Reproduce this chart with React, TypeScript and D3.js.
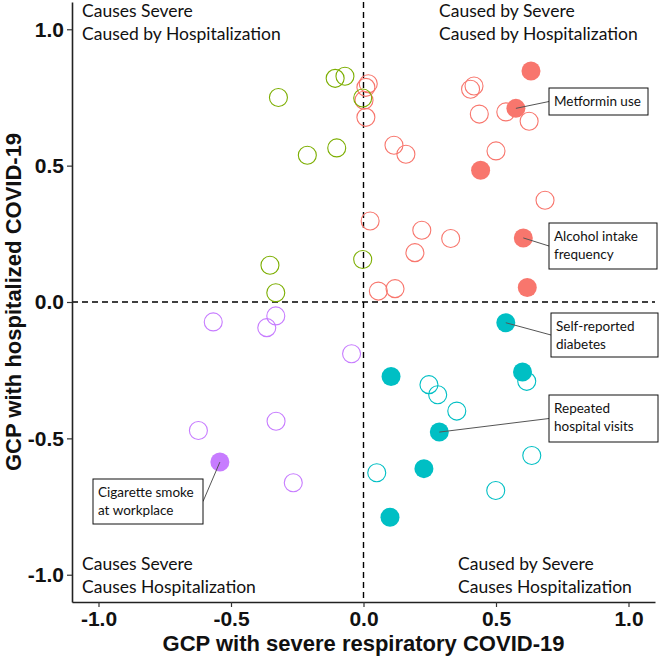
import React, { useEffect, useRef } from 'react';
import * as d3 from 'd3';

// genetic causal proportion (GCP): x = severe respiratory COVID-19, y = hospitalized COVID-19
const redOpen = [
  [0.018, 0.8], [0.009, 0.787], [0.002, 0.74], [0.009, 0.677], [0.417, 0.792], [0.404, 0.78],
  [0.437, 0.689], [0.537, 0.697], [0.625, 0.663], [0.115, 0.575], [0.16, 0.542], [0.5, 0.554],
  [0.685, 0.373], [0.025, 0.297], [0.22, 0.263], [0.329, 0.233], [0.194, 0.181], [0.056, 0.04],
  [0.119, 0.049],
];
const redFilled = [[0.632, 0.847], [0.575, 0.71], [0.442, 0.483], [0.603, 0.235], [0.618, 0.053]];
const greenOpen = [
  [-0.321, 0.75], [-0.107, 0.82], [-0.07, 0.828], [-0.212, 0.538], [-0.101, 0.565],
  [-0.003, 0.748], [-0.353, 0.135], [-0.331, 0.034], [-0.003, 0.156],
];
const purpleOpen = [
  [-0.567, -0.073], [-0.331, -0.051], [-0.365, -0.094], [-0.623, -0.471], [-0.33, -0.437],
  [-0.265, -0.663], [-0.045, -0.19],
];
const purpleFilled = [[-0.542, -0.587]];
const tealOpen = [
  [0.247, -0.303], [0.28, -0.34], [0.352, -0.4], [0.616, -0.291], [0.635, -0.563],
  [0.05, -0.626], [0.499, -0.691],
];
const tealFilled = [[0.537, -0.076], [0.104, -0.273], [0.6, -0.257], [0.286, -0.477], [0.228, -0.611], [0.1, -0.789]];

const tickValues = [-1.0, -0.5, 0.0, 0.5, 1.0];

// labelled traits: which point they point at
const annotations = [
  { lines: ['Metformin use'], point: redFilled[1] },
  { lines: ['Alcohol intake', 'frequency'], point: redFilled[3] },
  { lines: ['Self-reported', 'diabetes'], point: tealFilled[0] },
  { lines: ['Repeated', 'hospital visits'], point: tealFilled[3] },
  { lines: ['Cigarette smoke', 'at workplace'], point: purpleFilled[0] },
];

const quadrantLabels = [
  { lines: ['Causes Severe', 'Caused by Hospitalization'], corner: 'tl' },
  { lines: ['Caused by Severe', 'Caused by Hospitalization'], corner: 'tr' },
  { lines: ['Causes Severe', 'Causes Hospitalization'], corner: 'bl' },
  { lines: ['Caused by Severe', 'Causes Hospitalization'], corner: 'br' },
];

const COLORS = { red: '#F8766D', green: '#7CAE00', teal: '#00BFC4', purple: '#C77CFF' };

const GcpScatter = () => {
  const svgRef = useRef(null);

  useEffect(() => {
    d3.select(svgRef.current).selectAll('*').remove();

    const width = 660;
    const height = 659;
    const margin = { top: 2, right: 5, bottom: 57, left: 72 };
    const r = 9;

    const svg = d3.select(svgRef.current)
      .attr('width', width)
      .attr('height', height);

    const x = d3.scaleLinear().domain([-1.1, 1.1]).range([margin.left, width - margin.right]);
    const y = d3.scaleLinear().domain([-1.1, 1.1]).range([height - margin.bottom, margin.top]);

    // reference lines at zero
    svg.append('line')
      .attr('x1', x(0)).attr('x2', x(0))
      .attr('y1', y(1.1)).attr('y2', y(-1.1))
      .attr('stroke', '#000').attr('stroke-width', 1.4).attr('stroke-dasharray', '6,4');
    svg.append('line')
      .attr('x1', x(-1.1)).attr('x2', x(1.1))
      .attr('y1', y(0)).attr('y2', y(0))
      .attr('stroke', '#000').attr('stroke-width', 1.4).attr('stroke-dasharray', '6,4');

    // quadrant labels
    const qFont = 'Lato, "Open Sans", sans-serif';
    const qPos = {
      tl: { x: 82, y: 17 },
      tr: { x: 439, y: 17 },
      bl: { x: 82, y: 570 },
      br: { x: 458, y: 570 },
    };
    quadrantLabels.forEach(q => {
      const p = qPos[q.corner];
      const t = svg.append('text')
        .attr('x', p.x).attr('y', p.y)
        .attr('font-family', qFont).attr('font-size', '17.5px').attr('fill', '#111');
      q.lines.forEach((line, i) => {
        t.append('tspan').attr('x', p.x).attr('dy', i === 0 ? 0 : 23).text(line);
      });
    });

    // points: open rings first, filled on top
    const drawOpen = (pts, color) => {
      svg.append('g').selectAll('circle')
        .data(pts)
        .enter()
        .append('circle')
        .attr('cx', d => x(d[0]))
        .attr('cy', d => y(d[1]))
        .attr('r', r)
        .attr('fill', 'none')
        .attr('stroke', color)
        .attr('stroke-width', 1.1);
    };
    const drawFilled = (pts, color) => {
      svg.append('g').selectAll('circle')
        .data(pts)
        .enter()
        .append('circle')
        .attr('cx', d => x(d[0]))
        .attr('cy', d => y(d[1]))
        .attr('r', r + 0.5)
        .attr('fill', color);
    };
    drawOpen(redOpen, COLORS.red);
    drawOpen(greenOpen, COLORS.green);
    drawOpen(purpleOpen, COLORS.purple);
    drawOpen(tealOpen, COLORS.teal);
    drawFilled(redFilled, COLORS.red);
    drawFilled(purpleFilled, COLORS.purple);
    drawFilled(tealFilled, COLORS.teal);

    // annotation boxes (pixel layout)
    const boxes = [
      { x: 549, y: 88, w: 99, h: 27 },
      { x: 549, y: 223, w: 108, h: 46 },
      { x: 551, y: 313, w: 107, h: 44 },
      { x: 549, y: 395, w: 109, h: 47 },
      { x: 93, y: 479, w: 110, h: 45 },
    ];
    annotations.forEach((a, i) => {
      const b = boxes[i];
      const px = x(a.point[0]);
      const py = y(a.point[1]);
      const ex = b.x > px ? b.x : b.x + b.w;
      const ey = b.y + b.h / 2;
      svg.append('line')
        .attr('x1', px).attr('y1', py)
        .attr('x2', ex).attr('y2', ey)
        .attr('stroke', '#555').attr('stroke-width', 1);
      svg.append('rect')
        .attr('x', b.x).attr('y', b.y)
        .attr('width', b.w).attr('height', b.h)
        .attr('fill', '#fff').attr('stroke', '#111').attr('stroke-width', 1);
      const t = svg.append('text')
        .attr('font-family', qFont).attr('font-size', '13.5px').attr('fill', '#111');
      a.lines.forEach((line, j) => {
        t.append('tspan')
          .attr('x', b.x + 5)
          .attr('y', b.y + 18 + j * 17.5)
          .text(line);
      });
    });

    // axes
    const axisFont = '"Liberation Sans", Arial, sans-serif';
    const fmt = d => d.toFixed(1);
    const xAxis = svg.append('g')
      .attr('transform', `translate(0,${height - margin.bottom})`)
      .call(d3.axisBottom(x).tickValues(tickValues).tickFormat(fmt).tickSize(5).tickSizeOuter(0).tickPadding(4));
    const yAxis = svg.append('g')
      .attr('transform', `translate(${margin.left},0)`)
      .call(d3.axisLeft(y).tickValues(tickValues).tickFormat(fmt).tickSize(5).tickSizeOuter(0).tickPadding(3));
    [xAxis, yAxis].forEach(g => {
      g.select('.domain').attr('stroke', '#222').attr('stroke-width', 1.6);
      g.selectAll('.tick line').attr('stroke', '#333').attr('stroke-width', 1.2);
      g.selectAll('.tick text')
        .attr('font-family', axisFont).attr('font-weight', 'bold')
        .attr('font-size', '21px').attr('fill', '#111');
    });

    // axis titles
    svg.append('text')
      .attr('x', (x(-1.1) + x(1.1)) / 2)
      .attr('y', 651)
      .attr('text-anchor', 'middle')
      .attr('font-family', axisFont).attr('font-weight', 'bold')
      .attr('font-size', '22px').attr('fill', '#111')
      .text('GCP with severe respiratory COVID-19');
    svg.append('text')
      .attr('transform', `translate(21,${(y(-1.1) + y(1.1)) / 2}) rotate(-90)`)
      .attr('text-anchor', 'middle')
      .attr('font-family', axisFont).attr('font-weight', 'bold')
      .attr('font-size', '22px').attr('fill', '#111')
      .text('GCP with hospitalized COVID-19');
  }, []);

  return (
    <div style={{ position: 'absolute', left: 0, top: 0, background: '#fff' }}>
      <svg ref={svgRef} style={{ display: 'block' }}></svg>
    </div>
  );
};

export default GcpScatter;
